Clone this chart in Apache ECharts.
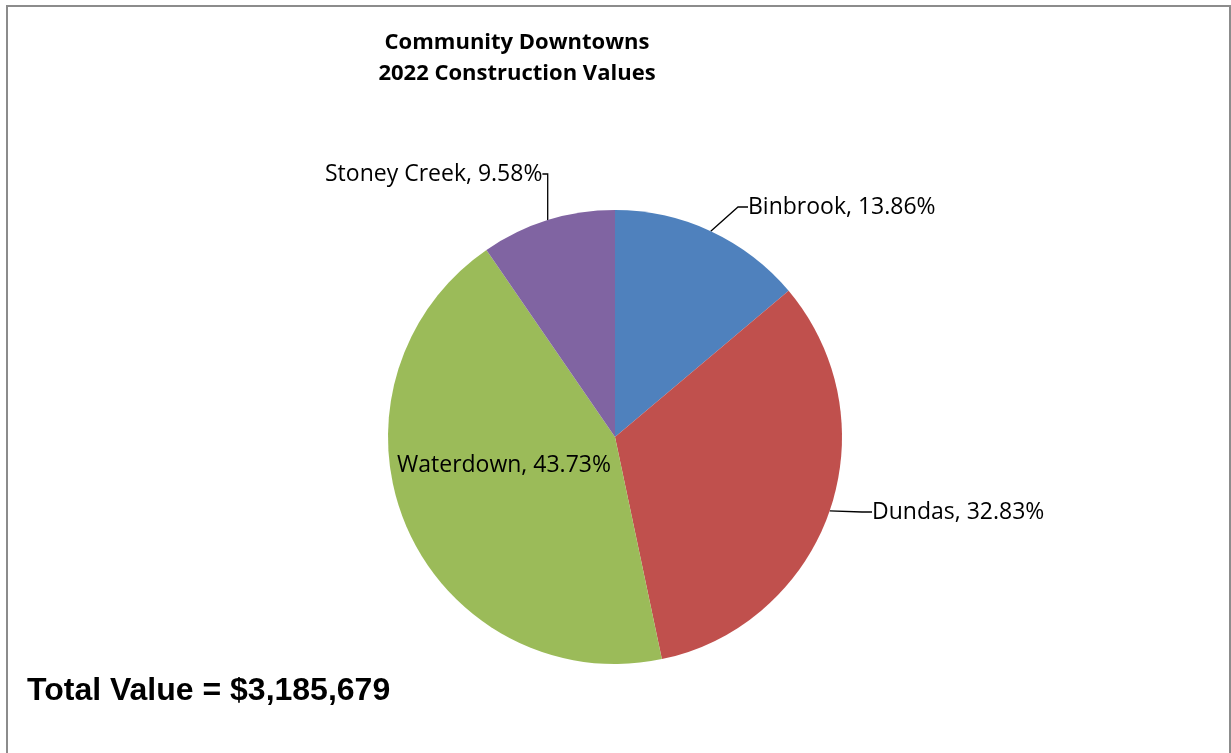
<!DOCTYPE html>
<html>
<head>
<meta charset="utf-8">
<script src="https://cdn.jsdelivr.net/npm/echarts@6/dist/echarts.min.js"></script>
<style>
  html, body { margin: 0; padding: 0; background: #fff; }
  #frame { position: absolute; left: 6px; top: 5px; width: 1225px; height: 760px;
           border-left: 2px solid #8c8c8c; border-top: 2px solid #8c8c8c; border-right: 2px solid #8c8c8c; box-sizing: border-box; }
  #chart { position: absolute; left: 0; top: 0; width: 1231px; height: 753px; }
</style>
</head>
<body>
<div id="frame"></div>
<div id="chart"></div>
<script>
// Community downtown shares of 2022 construction value (percent)
const towns = ['Binbrook', 'Dundas', 'Waterdown', 'Stoney Creek'];
const shares = [13.86, 32.83, 43.73, 9.58];
const sliceColors = ['#4F81BD', '#C0504D', '#9BBB59', '#8064A2'];
const totalValue = 3185679;
const titleLines = ['Community Downtowns', '2022 Construction Values'];

// Where each data label sits on the page (left edge / vertical middle)
const labelSpots = [
  { x: 748, y: 207 },
  { x: 872, y: 512 },
  { x: 397, y: 465 },
  { x: 325, y: 174 }
];

const chart = echarts.init(document.getElementById('chart'), null, { renderer: 'canvas' });

const fmtMoney = v => '$' + v.toLocaleString('en-US');

chart.setOption({
  animation: false,
  title: [
    {
      text: titleLines.join('\n'),
      left: 517, top: 27, textAlign: 'center', padding: 0,
      textStyle: { fontFamily: 'Open Sans', fontWeight: 'bold', fontSize: 22, lineHeight: 31, color: '#000' }
    },
    {
      text: 'Total Value = ' + fmtMoney(totalValue),
      left: 27, top: 675, padding: 0,
      textStyle: { fontFamily: 'Liberation Sans', fontWeight: 'bold', fontSize: 32, color: '#000' }
    }
  ],
  series: [{
    type: 'pie',
    center: [615, 437],
    radius: 227,
    startAngle: 90,
    clockwise: true,
    data: towns.map((n, i) => ({
      name: n, value: shares[i],
      itemStyle: { color: sliceColors[i] },
      labelLine: { show: i !== 2 }
    })),
    itemStyle: { borderWidth: 0 },
    label: {
      show: true,
      formatter: '{b}, {d}%',
      fontFamily: 'Open Sans', fontSize: 23, color: '#000'
    },
    labelLine: { show: true, length: 8, length2: 10, lineStyle: { color: '#000', width: 1.3 } },
    labelLayout: function (p) {
      const s = labelSpots[p.dataIndex];
      return { x: s.x, y: s.y, align: 'left', verticalAlign: 'middle' };
    },
    emphasis: { disabled: true }
  }]
});
</script>
</body>
</html>
